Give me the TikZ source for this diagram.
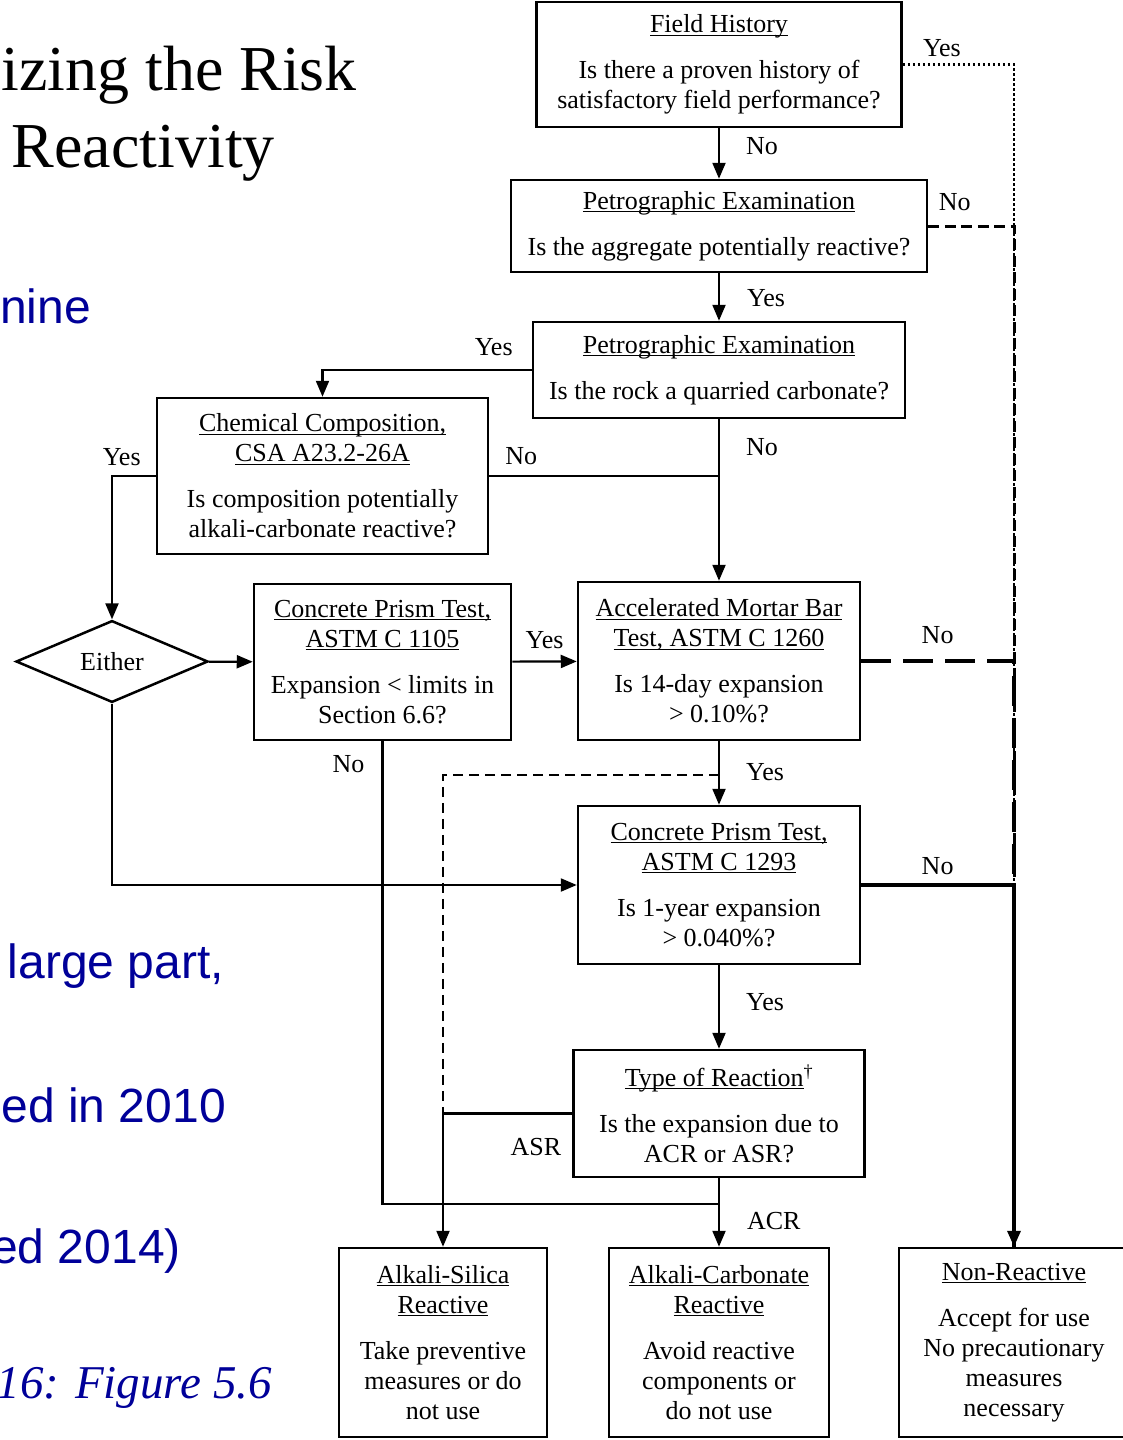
\documentclass[tikz,border=0pt]{standalone}
\usepackage{fontspec}
\setmainfont{Liberation Serif}
\newfontfamily\boxfont{Liberation Serif}
\newfontfamily\slidesans{Liberation Sans}
\usepackage{xcolor}
\definecolor{slideblue}{HTML}{000099}
\usepackage{tikz}
\usetikzlibrary{shapes,arrows.meta,positioning,calc}
\newsavebox\ulsave
\newcommand{\ultitle}[1]{\sbox\ulsave{#1}\rlap{\usebox\ulsave}\rule[-3pt]{\wd\ulsave}{1.2pt}}
\tikzstyle{block} = [rectangle, draw, line width=2.5pt, align=center, inner sep=0pt]
\tikzstyle{decision} = [diamond, draw, line width=2.5pt, inner sep=0pt,
    minimum width=192pt, minimum height=71pt]
\tikzstyle{line} = [draw, line width=2.2pt, -{Triangle[length=16pt,width=13pt]}]
\tikzstyle{link} = [draw, line width=2.2pt]
\tikzstyle{lbl} = [inner sep=0pt]
\tikzstyle{dotline} = [draw, line width=2.5pt, dash pattern=on 2.5pt off 2.5pt]
\tikzstyle{dashline} = [draw, line width=3pt, dash pattern=on 11pt off 5.5pt]
\tikzstyle{longdash} = [draw, line width=4pt, dash pattern=on 30pt off 12pt]
\tikzstyle{shortdash} = [draw, line width=2.5pt, dash pattern=on 10pt off 6pt]
\tikzstyle{slidetext} = [inner sep=0pt, anchor=base east]

\begin{document}
\begin{tikzpicture}[x=1pt,y=-1pt,every node/.style={font=\boxfont\fontsize{26}{30}\selectfont}]
    \fill[white] (0,0) rectangle (1123,1440);
    \useasboundingbox (0,0) rectangle (1123,1440);

    % Slide text behind the chart
    \node[slidetext, font=\fontsize{64}{70}\selectfont] (title1) at (357,90) {izing the Risk};
    \node[slidetext, font=\fontsize{64}{70}\selectfont] (title2) at (275,167) {Reactivity};
    \node[slidetext, text=slideblue, font=\slidesans\fontsize{48}{54}\selectfont] (bullet1) at (91,323) {nine};
    \node[slidetext, text=slideblue, font=\slidesans\fontsize{48}{54}\selectfont] (bullet2) at (224,978) {large part,};
    \node[slidetext, text=slideblue, font=\slidesans\fontsize{48}{54}\selectfont] (bullet3) at (226,1122) {ed in 2010};
    \node[slidetext, text=slideblue, font=\slidesans\fontsize{48}{54}\selectfont] (bullet4) at (181,1263) {ed 2014)};
    \node[slidetext, text=slideblue, font=\itshape\fontsize{47}{52}\selectfont] (source) at (272,1398) {16: Figure 5.6};

    % Place nodes
    \node[block, minimum width=365pt, minimum height=125pt] (field) at (719,64.5)
        {\ultitle{Field History}\\[16pt] Is there a proven history of\\ satisfactory field performance?};
    \node[block, minimum width=416pt, minimum height=92pt] (petro1) at (719,226)
        {\ultitle{Petrographic Examination}\\[16pt] Is the aggregate potentially reactive?};
    \node[block, minimum width=372pt, minimum height=96pt] (petro2) at (719,370)
        {\ultitle{Petrographic Examination}\\[16pt] Is the rock a quarried carbonate?};
    \node[block, minimum width=331pt, minimum height=156pt] (chem) at (322.5,476)
        {\ultitle{Chemical Composition,}\\ \ultitle{CSA A23.2-26A}\\[16pt] Is composition potentially\\ alkali-carbonate reactive?};
    \node[decision] (either) at (112,661.5) {Either};
    \node[block, minimum width=257pt, minimum height=156pt] (cpt1) at (382.5,662)
        {\ultitle{Concrete Prism Test,}\\ \ultitle{ASTM C 1105}\\[16pt] Expansion < limits in\\ Section 6.6?};
    \node[block, minimum width=282pt, minimum height=158pt] (ambt) at (719,661)
        {\ultitle{Accelerated Mortar Bar}\\ \ultitle{Test, ASTM C 1260}\\[16pt] Is 14-day expansion\\ > 0.10\%?};
    \node[block, minimum width=282pt, minimum height=158pt] (cpt2) at (719,885)
        {\ultitle{Concrete Prism Test,}\\ \ultitle{ASTM C 1293}\\[16pt] Is 1-year expansion\\ > 0.040\%?};
    \node[block, minimum width=291pt, minimum height=127pt] (reaction) at (719,1113.5)
        {\ultitle{Type of Reaction}\textsuperscript{\textdagger}\\[16pt] Is the expansion due to\\ ACR or ASR?};
    \node[block, minimum width=208pt, minimum height=189pt] (asr) at (443,1342.5)
        {\ultitle{Alkali-Silica}\\ \ultitle{Reactive}\\[16pt] Take preventive\\ measures or do\\ not use};
    \node[block, minimum width=220pt, minimum height=189pt] (acr) at (719,1342.5)
        {\ultitle{Alkali-Carbonate}\\ \ultitle{Reactive}\\[16pt] Avoid reactive\\ components or\\ do not use};
    \node[block, minimum width=230pt, minimum height=189pt] (nonreact) at (1014,1342.5)
        {\ultitle{Non-Reactive}\\[16pt] Accept for use\\ No precautionary\\ measures\\ necessary};

    \coordinate (split) at ($(ambt.south)!0.53!(cpt2.north)$);
    \coordinate (acrjoin) at ($(reaction.south)!0.37!(acr.north)$);

    % Draw edges
    \path [line] (field) -- node[lbl,pos=0,below right=8pt and 26pt] {No} (petro1);
    \path [line] (petro1) -- node[lbl,pos=0,below right=15pt and 27pt] {Yes} (petro2);
    \path [line] (petro2) -- node[lbl,pos=0,below right=18pt and 26pt] {No} (ambt);
    \path [line] (petro2.west) -| node[lbl,pos=0,above left=13pt and 18pt] {Yes} (chem.north);
    \path [link] (chem.east) -- node[lbl,pos=0,above right=10pt and 15pt] {No} (chem.east -| ambt.north);
    \path [line] (chem.west) -| node[lbl,pos=0,above left=9pt and 14pt] {Yes} (either.north);
    \path [line] (either) -- (cpt1);
    \path [line] (either.south) |- (cpt2.west);
    \path [line] (cpt1) -- node[lbl,above=12pt] {Yes} (ambt);
    \path [link] (cpt1.south) |- node[lbl,pos=0,below left=13pt and 17pt] {No} (acrjoin);
    \path [line] (ambt) -- node[lbl,pos=0,below right=21pt and 26pt] {Yes} (cpt2);
    \path [shortdash] (split) -| (asr.north);
    \path [line] (cpt2) -- node[lbl,pos=0,below right=27pt and 26pt] {Yes} (reaction);
    \path [line] (reaction.west) -| node[lbl,pos=0,below left=24pt and 10pt] {ASR} (asr.north);
    \path [line] (reaction) -- node[lbl,pos=0,below right=33pt and 27pt] {ACR} (acr);

    \path [dotline] (field.east) -| node[lbl,pos=0,above right=6pt and 19pt,solid] {Yes} (nonreact.north);
    \path [dashline] (petro1.east) -| node[lbl,pos=0,above right=14pt and 9pt] {No} (nonreact.north);
    \path [longdash] (ambt.east) -| node[lbl,pos=0.25,above=15pt] {No} (nonreact.north);
    \path [line, line width=3.5pt] (cpt2.east) -| node[lbl,pos=0.25,above=9pt] {No} (nonreact.north);
\end{tikzpicture}
\end{document}
